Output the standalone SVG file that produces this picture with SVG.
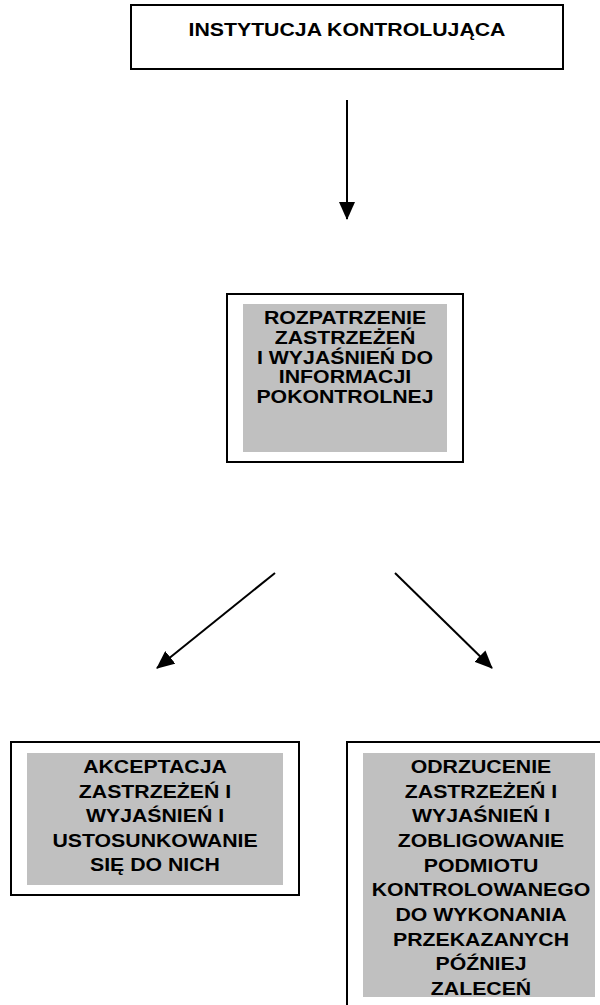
<svg xmlns="http://www.w3.org/2000/svg" width="600" height="1005" viewBox="0 0 600 1005">
  <defs>
    <marker id="ah" markerUnits="userSpaceOnUse" markerWidth="18" markerHeight="16" refX="17" refY="8" orient="auto">
      <path d="M0,0 L18,8 L0,16 z" fill="#000"/>
    </marker>
    <style>
      .box { fill: #fff; stroke: #000; stroke-width: 2; }
      .shade { fill: #c0c0c0; stroke: none; }
      .t { font-family: "Liberation Sans", Arial, sans-serif; font-weight: bold; font-size: 18.5px; fill: #000; text-anchor: middle; }
      .conn { stroke: #000; stroke-width: 2; fill: none; marker-end: url(#ah); }
    </style>
  </defs>
  <rect width="600" height="1005" fill="#fff"/>

  <g id="connectors">
    <line class="conn" x1="347" y1="100" x2="347" y2="219"/>
    <line class="conn" x1="275" y1="573" x2="157" y2="668"/>
    <line class="conn" x1="395" y1="573" x2="492" y2="668"/>
  </g>

  <g id="node-instytucja">
    <rect class="box" x="131" y="5" width="432" height="64"/>
    <g transform="translate(347,0) scale(1.15,1)">
      <text class="t" x="0" y="36">INSTYTUCJA KONTROLUJĄCA</text>
    </g>
  </g>

  <g id="node-rozpatrzenie">
    <rect class="box" x="227" y="294" width="236" height="168"/>
    <rect class="shade" x="243" y="304" width="204" height="148"/>
    <g transform="translate(345,0) scale(1.15,1)">
      <text class="t" x="0" y="324">ROZPATRZENIE</text>
      <text class="t" x="0" y="344">ZASTRZEŻEŃ</text>
      <text class="t" x="0" y="364">I WYJAŚNIEŃ DO</text>
      <text class="t" x="0" y="383">INFORMACJI</text>
      <text class="t" x="0" y="403">POKONTROLNEJ</text>
    </g>
  </g>

  <g id="node-akceptacja">
    <rect class="box" x="11" y="742" width="288" height="153"/>
    <rect class="shade" x="27" y="753" width="256" height="132"/>
    <g transform="translate(155,0) scale(1.15,1)">
      <text class="t" x="0" y="773">AKCEPTACJA</text>
      <text class="t" x="0" y="798">ZASTRZEŻEŃ I</text>
      <text class="t" x="0" y="822">WYJAŚNIEŃ I</text>
      <text class="t" x="0" y="847">USTOSUNKOWANIE</text>
      <text class="t" x="0" y="871">SIĘ DO NICH</text>
    </g>
  </g>

  <g id="node-odrzucenie">
    <rect class="box" x="347" y="742" width="264" height="272"/>
    <rect class="shade" x="363" y="753" width="232" height="244"/>
    <g transform="translate(481,0) scale(1.15,1)">
      <text class="t" x="0" y="773">ODRZUCENIE</text>
      <text class="t" x="0" y="798">ZASTRZEŻEŃ I</text>
      <text class="t" x="0" y="822">WYJAŚNIEŃ I</text>
      <text class="t" x="0" y="847">ZOBLIGOWANIE</text>
      <text class="t" x="0" y="872">PODMIOTU</text>
      <text class="t" x="0" y="896">KONTROLOWANEGO</text>
      <text class="t" x="0" y="921">DO WYKONANIA</text>
      <text class="t" x="0" y="946">PRZEKAZANYCH</text>
      <text class="t" x="0" y="970">PÓŹNIEJ</text>
      <text class="t" x="0" y="995">ZALECEŃ</text>
    </g>
  </g>
</svg>
